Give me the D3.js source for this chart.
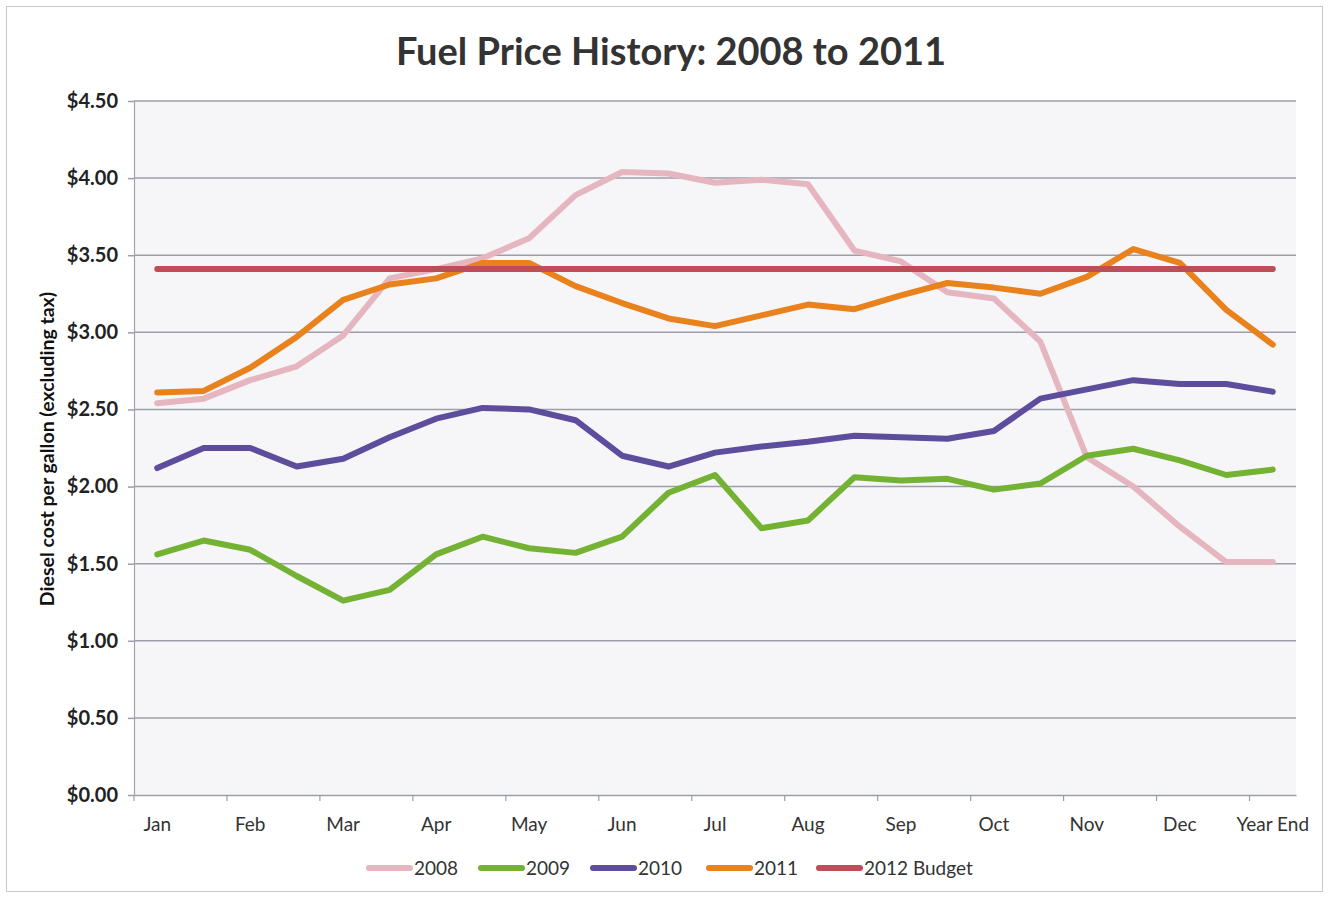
<!DOCTYPE html>
<html>
<head>
<meta charset="utf-8">
<script src="https://cdn.jsdelivr.net/npm/d3@7"></script>
<style>
  body { margin: 0; background: #fff; }
  svg { display: block; }
  svg text { font-family: Lato, "Open Sans", sans-serif; }
</style>
</head>
<body>
<svg id="chart"></svg>
<script>
// chart data (two readings per month)
const monthLabels = ["Jan", "Feb", "Mar", "Apr", "May", "Jun", "Jul", "Aug", "Sep", "Oct", "Nov", "Dec", "Year End"];
const periods = d3.range(25); // mid-month points in between the labelled ones

const fuel2008 = [2.54, 2.57, 2.69, 2.78, 2.98, 3.35, 3.41, 3.48, 3.61, 3.89, 4.04, 4.03, 3.97,
                  3.99, 3.96, 3.53, 3.46, 3.26, 3.22, 2.94, 2.19, 2.00, 1.74, 1.51, 1.51];
const fuel2009 = [1.56, 1.65, 1.59, 1.42, 1.26, 1.33, 1.56, 1.675, 1.60, 1.57, 1.675, 1.96, 2.075,
                  1.73, 1.78, 2.06, 2.04, 2.05, 1.98, 2.02, 2.20, 2.245, 2.17, 2.075, 2.11];
const fuel2010 = [2.12, 2.25, 2.25, 2.13, 2.18, 2.32, 2.44, 2.51, 2.50, 2.43, 2.20, 2.13, 2.22,
                  2.26, 2.29, 2.33, 2.32, 2.31, 2.36, 2.57, 2.63, 2.69, 2.665, 2.665, 2.615];
const fuel2011 = [2.61, 2.62, 2.77, 2.97, 3.21, 3.31, 3.35, 3.45, 3.45, 3.30, 3.19, 3.09, 3.04,
                  3.11, 3.18, 3.15, 3.24, 3.32, 3.29, 3.25, 3.36, 3.54, 3.45, 3.145, 2.92];
const budget2012 = [3.41, 3.41, 3.41, 3.41, 3.41, 3.41, 3.41, 3.41, 3.41, 3.41, 3.41, 3.41, 3.41,
                    3.41, 3.41, 3.41, 3.41, 3.41, 3.41, 3.41, 3.41, 3.41, 3.41, 3.41, 3.41];

const seriesNames = ["2008", "2009", "2010", "2011", "2012 Budget"];
const seriesValues = [fuel2008, fuel2009, fuel2010, fuel2011, budget2012];
const seriesColors = ["#e6b6c0", "#74b234", "#5e4c9c", "#e9811d", "#bf4c57"];

const yTicks = [0, 0.5, 1, 1.5, 2, 2.5, 3, 3.5, 4, 4.5];

const W = 1330, H = 898;
const margin = {top: 101, right: 34, bottom: 103, left: 134};
const FONT = "Lato, 'Open Sans', sans-serif";

const svg = d3.select("#chart").attr("width", W).attr("height", H);

// outer frame of the scanned page
svg.append("rect")
  .attr("x", 6.5).attr("y", 6.5)
  .attr("width", W - 14).attr("height", H - 13)
  .attr("fill", "#fff")
  .attr("stroke", "#c8c8cc");

const x = d3.scaleBand()
  .domain(periods)
  .range([margin.left, W - margin.right]);

const y = d3.scaleLinear()
  .domain([0, 4.5])
  .range([H - margin.bottom, margin.top]);

// plot area
svg.append("rect")
  .attr("x", margin.left).attr("y", margin.top)
  .attr("width", W - margin.left - margin.right)
  .attr("height", H - margin.top - margin.bottom)
  .attr("fill", "#f6f6f8");

// gridlines
svg.append("g")
  .selectAll("line")
  .data(yTicks.filter(d => d > 0))
  .enter()
  .append("line")
  .attr("x1", margin.left)
  .attr("x2", W - margin.right)
  .attr("y1", d => y(d))
  .attr("y2", d => y(d))
  .attr("stroke", "#9c9ea8")
  .attr("stroke-width", 1.5);

// y axis
const yAxis = svg.append("g")
  .attr("transform", `translate(${margin.left},0)`)
  .call(d3.axisLeft(y).tickValues(yTicks).tickSize(6).tickPadding(10)
    .tickFormat(d => "$" + d.toFixed(2)));
yAxis.attr("font-family", FONT);
yAxis.select(".domain").attr("stroke", "#a4a4ac").attr("stroke-width", 1.2);
yAxis.selectAll(".tick line").attr("stroke", "#9c9ea8").attr("stroke-width", 1.5);
yAxis.selectAll(".tick text")
  .attr("fill", "#222")
  .style("font-size", "20px")
  .style("font-weight", "bold");

// x axis: labels centred on every other category, ticks at category edges
const half = x.bandwidth() / 2;
const xAxis = svg.append("g")
  .attr("transform", `translate(0,${H - margin.bottom})`)
  .call(d3.axisBottom(x)
    .tickValues(periods.filter(i => i % 2 === 0))
    .tickSize(6).tickPadding(17).tickSizeOuter(0)
    .tickFormat(i => monthLabels[i / 2]));
xAxis.attr("font-family", FONT);
xAxis.select(".domain").attr("stroke", "#9c9ea8").attr("stroke-width", 1.5);
xAxis.selectAll(".tick line")
  .attr("x1", -half).attr("x2", -half)
  .attr("stroke", "#9c9ea8").attr("stroke-width", 1.2);
xAxis.selectAll(".tick text")
  .attr("fill", "#333")
  .style("font-size", "19px");

// lines
const line = d3.line()
  .x((d, i) => x(periods[i]) + half)
  .y(d => y(d));

svg.append("g")
  .selectAll("path")
  .data(seriesValues)
  .enter()
  .append("path")
  .attr("d", d => line(d))
  .attr("fill", "none")
  .attr("stroke", (d, i) => seriesColors[i])
  .attr("stroke-width", 6)
  .attr("stroke-linecap", "round")
  .attr("stroke-linejoin", "round");

// title
svg.append("text")
  .attr("x", 671)
  .attr("y", 65)
  .attr("text-anchor", "middle")
  .attr("fill", "#333")
  .style("font-size", "38px")
  .style("font-weight", "bold")
  .text("Fuel Price History: 2008 to 2011");

// y axis title
svg.append("text")
  .attr("transform", "translate(54,449) rotate(-90)")
  .attr("text-anchor", "middle")
  .attr("fill", "#111")
  .style("font-size", "19.5px")
  .style("font-weight", "bold")
  .text("Diesel cost per gallon (excluding tax)");

// legend
const legendX = [366, 478, 590, 706, 816];
const legend = svg.append("g").attr("transform", "translate(0,868)");
const item = legend.selectAll("g")
  .data(seriesNames)
  .enter()
  .append("g")
  .attr("transform", (d, i) => `translate(${legendX[i]},0)`);
item.append("line")
  .attr("x1", 3).attr("x2", 44)
  .attr("stroke", (d, i) => seriesColors[i])
  .attr("stroke-width", 6)
  .attr("stroke-linecap", "round");
item.append("text")
  .attr("x", 48)
  .attr("dy", "0.35em")
  .attr("fill", "#333")
  .style("font-size", "19px")
  .text(d => d);
</script>
</body>
</html>
